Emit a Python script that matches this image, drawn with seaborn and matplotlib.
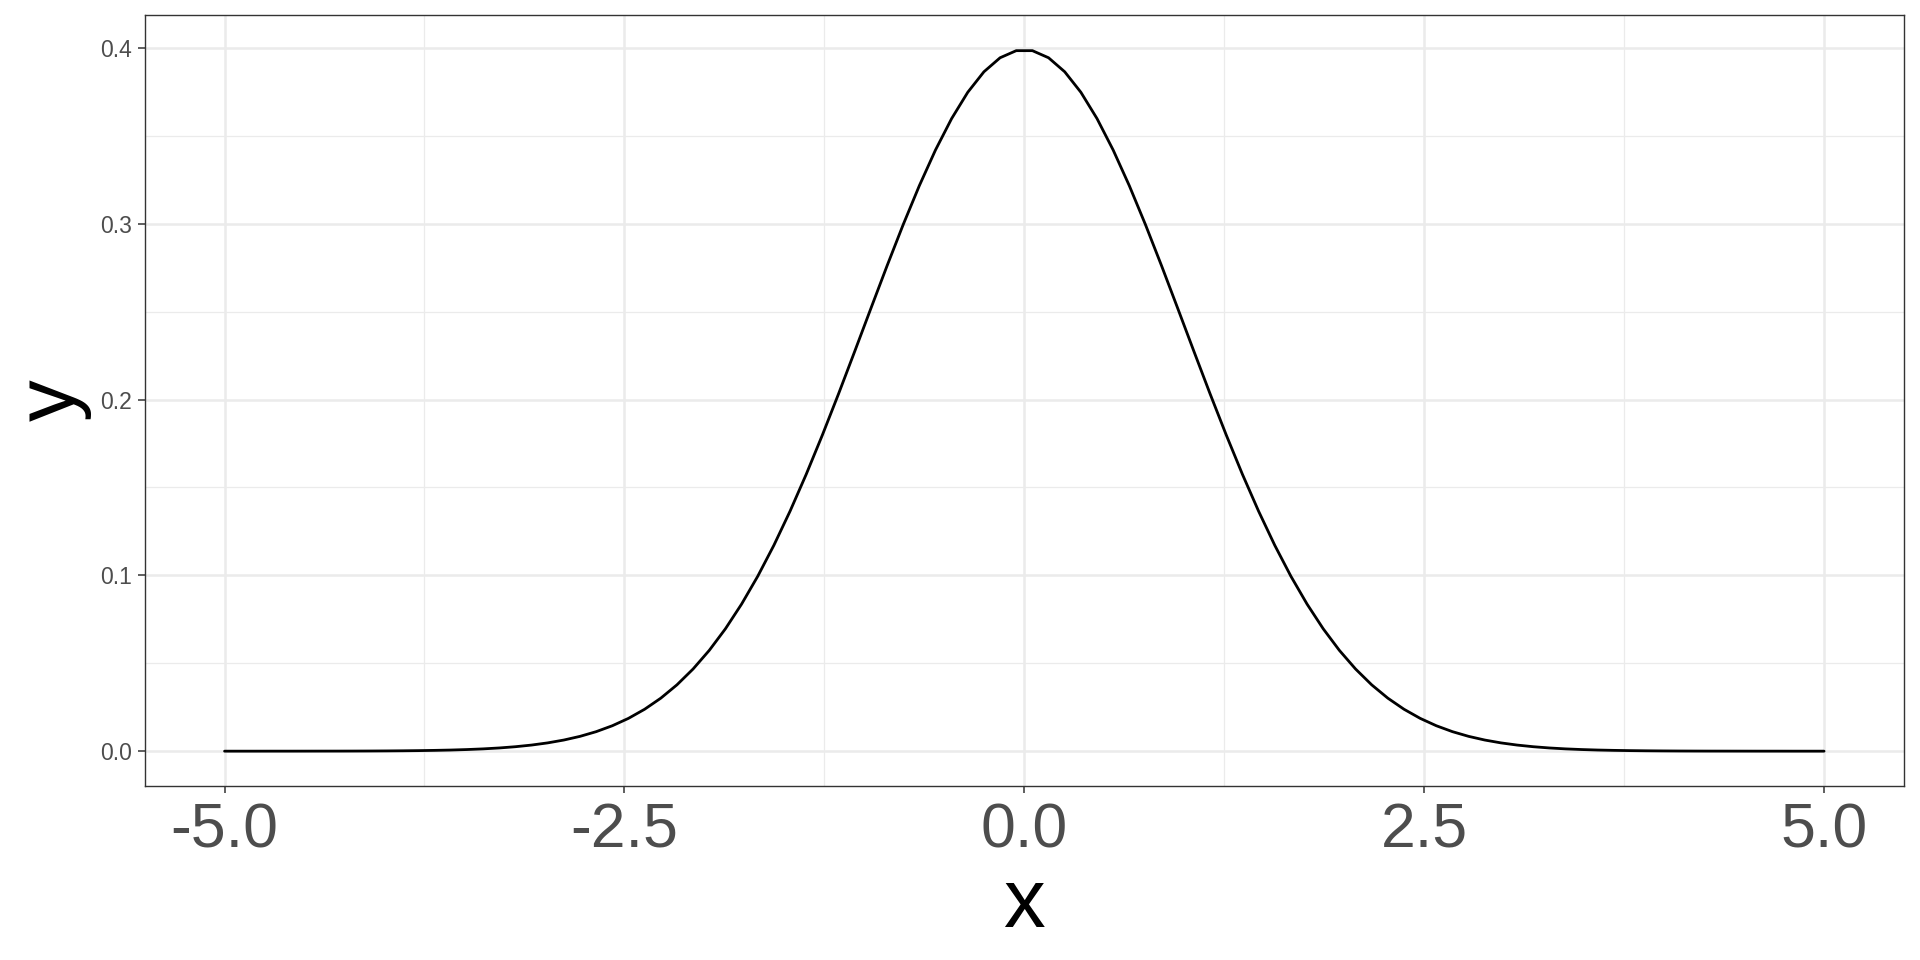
import matplotlib
matplotlib.use('Agg')
import matplotlib.pyplot as plt
import numpy as np
import pandas as pd
import seaborn as sns
from matplotlib.ticker import MultipleLocator

# data (100 points evenly spaced on [-5, 5])
x_grid = np.linspace(-5, 5, 100)
y_vals = [
    0.00000, 0.00000, 0.00000, 0.00001, 0.00001, 0.00002, 0.00003, 0.00004,
    0.00006, 0.00009, 0.00014, 0.00021, 0.00031, 0.00045, 0.00064, 0.00092,
    0.00130, 0.00182, 0.00253, 0.00347, 0.00471, 0.00633, 0.00842, 0.01109,
    0.01446, 0.01866, 0.02384, 0.03014, 0.03773, 0.04675, 0.05733, 0.06960,
    0.08364, 0.09948, 0.11711, 0.13649, 0.15745, 0.17978, 0.20319, 0.22733,
    0.25174, 0.27595, 0.29942, 0.32159, 0.34189, 0.35978, 0.37477, 0.38642,
    0.39439, 0.39843, 0.39843, 0.39439, 0.38642, 0.37477, 0.35978, 0.34189,
    0.32159, 0.29942, 0.27595, 0.25174, 0.22733, 0.20319, 0.17978, 0.15745,
    0.13649, 0.11711, 0.09948, 0.08364, 0.06960, 0.05733, 0.04675, 0.03773,
    0.03014, 0.02384, 0.01866, 0.01446, 0.01109, 0.00842, 0.00633, 0.00471,
    0.00347, 0.00253, 0.00182, 0.00130, 0.00092, 0.00064, 0.00045, 0.00031,
    0.00021, 0.00014, 0.00009, 0.00006, 0.00004, 0.00003, 0.00002, 0.00001,
    0.00001, 0.00000, 0.00000, 0.00000,
]
x_ticks = [-5.0, -2.5, 0.0, 2.5, 5.0]
y_ticks = [0.0, 0.1, 0.2, 0.3, 0.4]

df = pd.DataFrame({'x': x_grid, 'y': y_vals})

# theme
sns.set_theme(style='white')
plt.rcParams['font.family'] = ['Liberation Sans', 'DejaVu Sans']

fig = plt.figure(figsize=(19.2, 9.6), dpi=100)
ax = fig.add_axes([0.0753, 0.181, 0.9164, 0.8037])

sns.lineplot(data=df, x='x', y='y', color='black', linewidth=2.0, ax=ax)

ax.set_xlim(-5.5, 5.5)
ax.set_ylim(-0.01995, 0.41889)
ax.set_xticks(x_ticks)
ax.set_xticklabels([f'{v:.1f}' for v in x_ticks])
ax.set_yticks(y_ticks)
ax.set_yticklabels([f'{v:.1f}' for v in y_ticks])
ax.xaxis.set_minor_locator(MultipleLocator(1.25))
ax.yaxis.set_minor_locator(MultipleLocator(0.05))

# grid lines like theme_bw
ax.grid(which='major', color='#EBEBEB', linewidth=1.8)
ax.grid(which='minor', color='#EBEBEB', linewidth=0.9)
ax.set_axisbelow(True)

for s in ax.spines.values():
    s.set_color('#333333')
    s.set_linewidth(1.0)

ax.tick_params(axis='x', which='major', length=5, width=1.1, color='#333333',
               labelsize=45, labelcolor='#4D4D4D', pad=6, bottom=True)
ax.tick_params(axis='y', which='major', length=5, width=1.1, color='#333333',
               labelsize=16.5, labelcolor='#4D4D4D', pad=4, left=True)
ax.tick_params(which='minor', length=0)

ax.set_xlabel('x', fontsize=60, color='black', labelpad=4)
ax.set_ylabel('y', fontsize=60, color='black', labelpad=6)

fig.savefig('out.png', dpi=100, facecolor='white')
